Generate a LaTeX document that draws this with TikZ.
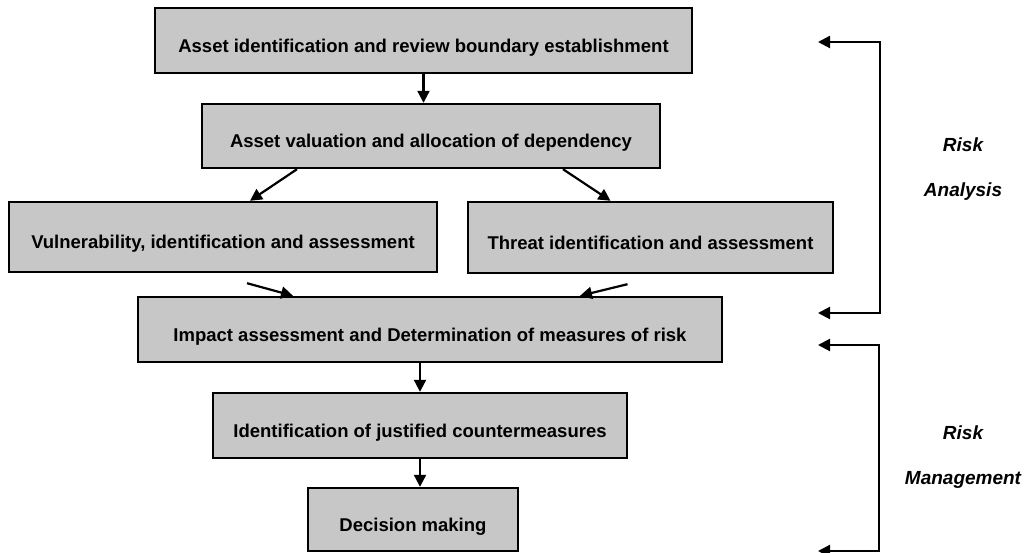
\documentclass[tikz,border=0pt]{standalone}
\usepackage{fontspec}
\setmainfont{Liberation Sans}
\usetikzlibrary{arrows.meta}
\tikzset{
  stage/.style={draw=black, line width=2.4pt, fill=black!22, inner sep=0pt,
    font=\fontsize{18.5}{22}\selectfont\bfseries, text height=24pt, text depth=0pt},
  flow/.style={line width=2.2pt, -{Triangle[width=12pt,length=12pt]}},
  brk/.style={line width=2.2pt, {Triangle[width=12pt,length=12pt]}-{Triangle[width=12pt,length=12pt]}},
  phase/.style={font=\fontsize{19}{22}\selectfont\bfseries\itshape}
}

\begin{document}
\begin{tikzpicture}[x=1pt,y=-1pt]
	%%%%% FRAME %%%%%
	\useasboundingbox (0,0) rectangle (1030,553);
	
	%%%%% STAGES %%%%%
	\node[stage, minimum width=537pt, minimum height=65pt] (ast) at (423.5,40.5) {Asset identification and review boundary establishment};
	\node[stage, minimum width=458pt, minimum height=64pt] (val) at (431,136) {Asset valuation and allocation of dependency};
	\node[stage, minimum width=428pt, minimum height=70pt] (vul) at (223,237) {Vulnerability, identification and assessment};
	\node[stage, minimum width=365pt, minimum height=71pt] (thr) at (650.5,237.5) {Threat identification and assessment};
	\node[stage, minimum width=584pt, minimum height=65pt] (imp) at (430,329.5) {Impact assessment and Determination of measures of risk};
	\node[stage, minimum width=414pt, minimum height=65pt] (cnt) at (420,425.5) {Identification of justified countermeasures};
	\node[stage, minimum width=210pt, minimum height=63pt] (dec) at (413,519.5) {Decision making};
	
	%%%%% FLOW %%%%%
	\draw[flow] (ast.south) -- (ast.south |- val.north);
	\draw[flow] ([xshift=-134pt]val.south) -- ([xshift=27pt]vul.north);
	\draw[flow] ([xshift=132pt]val.south) -- ([xshift=-40pt]thr.north);
	\draw[flow] ([xshift=24pt,yshift=-10pt]vul.south) -- ([xshift=-137pt]imp.north);
	\draw[flow] ([xshift=-23pt,yshift=-10pt]thr.south) -- ([xshift=150pt]imp.north);
	\draw[flow] (cnt.north |- imp.south) -- (cnt.north);
	\draw[flow] (cnt.south) -- (cnt.south |- dec.north);
	
	%%%%% PHASES %%%%%
	\coordinate (raA) at (818,42);
	\coordinate (raB) at (818,313);
	\coordinate (rmA) at (818,345);
	\coordinate (rmB) at (818,551);
	\draw[brk] (raA) -- ++(62,0) |- (raB);
	\draw[brk] (rmA) -- ++(61,0) |- (rmB);
	
	\node[phase] (ra1) at (963,145) {Risk};
	\node[phase] (ra2) at (963,192) {Analysis};
	\node[phase] (rm1) at (963,433) {Risk};
	\node[phase] (rm2) at (963,480) {Management};
\end{tikzpicture}
\end{document}
